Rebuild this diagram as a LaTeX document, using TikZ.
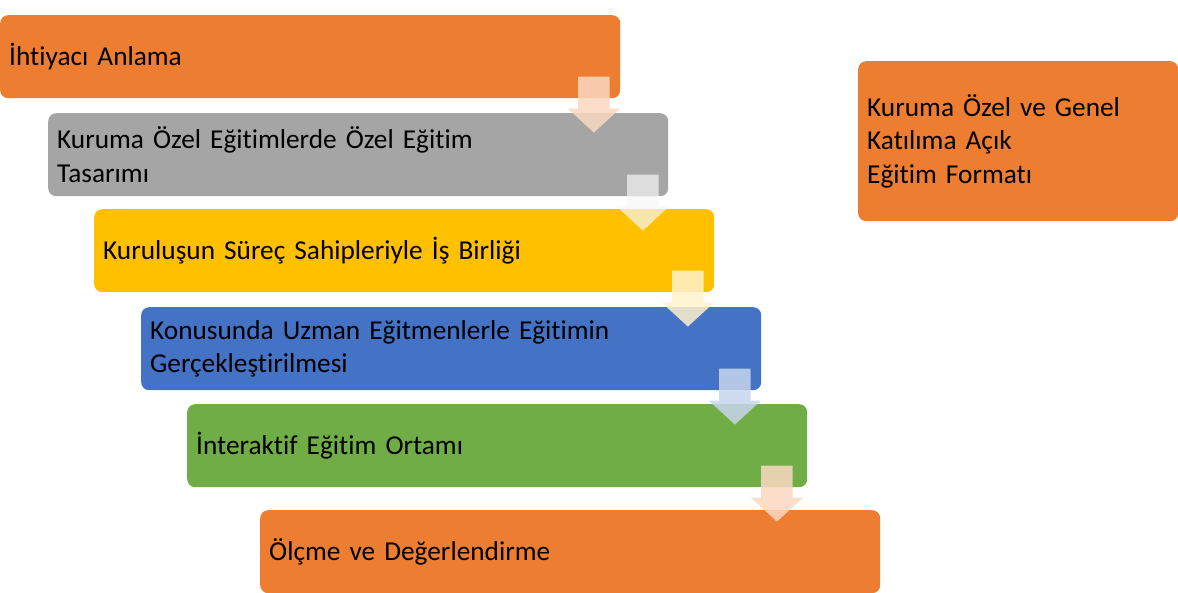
\documentclass[tikz,border=0pt]{standalone}
\usepackage{fontspec}
\setmainfont{Carlito}[Ligatures=NoCommon]
\usetikzlibrary{calc,shapes.arrows}
\definecolor{turuncu}{HTML}{ED7D31}
\definecolor{gri}{HTML}{A5A5A5}
\definecolor{sari}{HTML}{FFC000}
\definecolor{mavi}{HTML}{4472C4}
\definecolor{yesil}{HTML}{70AD47}
\begin{document}
\begin{tikzpicture}[x=1pt,y=1pt]
        \tikzset{
        stepbox/.style={rounded corners=8pt, anchor=north west, text width=602pt, minimum width=620pt, minimum height=83pt, inner xsep=9pt, inner ysep=0pt, align=left, font=\fontsize{27.3}{33.3}\selectfont},
        flow/.style={single arrow, rotate=-90, anchor=tail, minimum height=56pt, inner xsep=0pt, inner ysep=15.5pt, single arrow head extend=10.5pt, single arrow tip angle=95, fill opacity=0.85},
        }
        \useasboundingbox (0,0) rectangle (1178,593);

        % Steps.
        \path (0,578)   node[stepbox, fill=turuncu] (anlama)   {İhtiyacı Anlama};
        \path (48,480)  node[stepbox, fill=gri]     (tasarim)  {Kuruma Özel Eğitimlerde Özel Eğitim\\Tasarımı};
        \path (94,384)  node[stepbox, fill=sari]    (isbirligi) {Kuruluşun Süreç Sahipleriyle İş Birliği};
        \path (141,286) node[stepbox, fill=mavi]    (uzman)    {Konusunda Uzman Eğitmenlerle Eğitimin\\Gerçekleştirilmesi};
        \path (187,189) node[stepbox, fill=yesil]   (ortam)    {İnteraktif Eğitim Ortamı};
        \path (260,83)  node[stepbox, fill=turuncu] (olcme)    {Ölçme ve Değerlendirme};

        % Side note.
        \path (858,532) node[stepbox, fill=turuncu, text width=302pt, minimum width=320pt, minimum height=160pt] (format)
          {Kuruma Özel ve Genel\\Katılıma Açık\\Eğitim Formatı};

        % Arrows.
        \path ($(anlama.south east)+(-26.5,22)$)    node[flow, fill=turuncu!30!white] (ok1) {};
        \path ($(tasarim.south east)+(-25.5,22)$)   node[flow, fill=gri!10!white, fill opacity=0.7] (ok2) {};
        \path ($(isbirligi.south east)+(-26.5,22)$) node[flow, fill=sari!20!white]    (ok3) {};
        \path ($(uzman.south east)+(-26.5,22)$)     node[flow, fill=mavi!30!white]    (ok4) {};
        \path ($(ortam.south east)+(-30.5,22)$)     node[flow, fill=turuncu!30!white] (ok5) {};
\end{tikzpicture}
\end{document}
